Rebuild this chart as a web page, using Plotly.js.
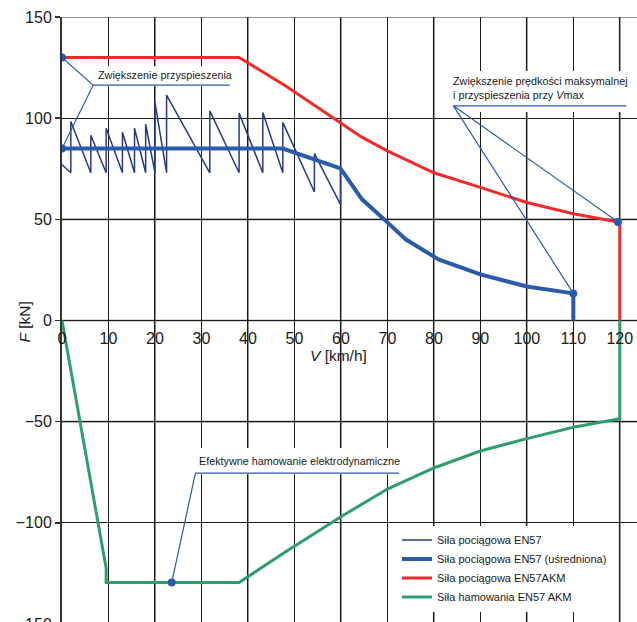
<!DOCTYPE html>
<html>
<head>
<meta charset="utf-8">
<script src="https://cdn.plot.ly/plotly-3.0.1.min.js"></script>
<style>
html, body { margin: 0; padding: 0; background: #fff; overflow: hidden; }
#chart { width: 637px; height: 650px; }
</style>
</head>
<body>
<div id="chart"></div>
<script>
// ---- data ----
const seriesNames = [
  'Siła pociągowa EN57',
  'Siła pociągowa EN57 (uśredniona)',
  'Siła pociągowa EN57AKM',
  'Siła hamowania EN57 AKM'
];
// raw traction force EN57 (sawtooth, kN vs km/h)
const rawV = [0, 1.9, 1.9, 6.2, 6.2, 9.5, 9.5, 13, 13, 15.6, 15.6, 18, 18, 20, 20, 22.5, 22.5, 31.8, 31.8, 38.1, 38.1, 43.2, 43.2, 47.5, 47.5, 54.3, 54.3, 59.9, 59.9, 64.5, 70, 74, 81, 90, 100, 110, 110];
const rawF = [77, 73, 98.4, 73, 91.6, 73, 95, 73, 93, 73, 95, 73, 97, 73, 107.8, 73, 111.4, 73, 103.6, 73, 102.5, 73, 102.8, 73, 97.9, 63.5, 82.5, 57.4, 75.2, 60, 48.5, 40, 30.2, 22.8, 16.8, 13.4, 0];
// averaged traction force EN57
const avgV = [0, 47.5, 59.9, 64.5, 70, 74, 81, 90, 100, 110, 110];
const avgF = [85, 85, 75.2, 60, 48.5, 40, 30.2, 22.8, 16.8, 13.4, 0];
// traction force EN57AKM
const akmV = [0, 38.1, 48.4, 60, 64.5, 70, 80, 90, 100, 110, 119.6, 120, 120];
const akmF = [130, 130, 115.5, 97.5, 90.6, 83.8, 73, 65.8, 58.3, 52.8, 48.7, 48.5, 0];
// braking force EN57 AKM
const brakeV = [0, 9.5, 9.5, 38.1, 48.3, 55.5, 60, 70, 80, 90, 100, 110, 120, 120];
const brakeF = [0, -122.5, -129.5, -129.5, -114, -103.5, -97, -83.3, -72.9, -64.5, -58.4, -52.8, -48.5, 0];
// highlighted points
const dotV = [0, 0, 110, 119.6, 23.6];
const dotF = [130, 85, 13.4, 48.7, -129.5];
// callout leader lines
const call1V = [0, 6.7, 36.1, null, 0, 6.7];
const call1F = [130, 116.3, 116.3, null, 85, 116.3];
const call2V = [121.4, 84.2, 110, null, 84.2, 119.6];
const call2F = [106.1, 106.1, 13.4, null, 106.1, 48.7];
const call3V = [23.6, 28.7, 72.5];
const call3F = [-129.5, -75.4, -75.4];
// callout texts
const noteTexts = [
  'Zwiększenie przyspieszenia',
  'Zwiększenie prędkości maksymalnej<br>i przyspieszenia przy <i>V</i>max',
  'Efektywne hamowanie elektrodynamiczne'
];
const noteV = [7.4, 83.7, 29.0];
const noteF = [121.2, 114.9, -69.6];
// axis ticks
const xTicks = [0, 10, 20, 30, 40, 50, 60, 70, 80, 90, 100, 110, 120];
const yTicks = [-150, -100, -50, 0, 50, 100, 150];
const grayX = [20, 40, 60, 80, 100, 120];
const grayY = [150, 50, 0, -50, -150];

// ---- styles ----
const FONT = '"Liberation Sans Narrow", "Arial Narrow", "Liberation Sans", Arial, sans-serif';
const colRaw = '#263b82', colAvg = '#2a5bab', colAkm = '#ef2b2b', colBrake = '#2f9e6c';

const traces = [
  {x: rawV, y: rawF, name: seriesNames[0], mode: 'lines', line: {color: colRaw, width: 1.5}},
  {x: avgV, y: avgF, name: seriesNames[1], mode: 'lines', line: {color: colAvg, width: 4}},
  {x: akmV, y: akmF, name: seriesNames[2], mode: 'lines', line: {color: colAkm, width: 3}},
  {x: brakeV, y: brakeF, name: seriesNames[3], mode: 'lines', line: {color: colBrake, width: 3}},
  {x: call1V, y: call1F, mode: 'lines', showlegend: false, line: {color: colAvg, width: 1.2}, hoverinfo: 'skip'},
  {x: call2V, y: call2F, mode: 'lines', showlegend: false, line: {color: colAvg, width: 1.2}, hoverinfo: 'skip'},
  {x: call3V, y: call3F, mode: 'lines', showlegend: false, line: {color: colAvg, width: 1.2}, hoverinfo: 'skip'},
  {x: dotV, y: dotF, mode: 'markers', showlegend: false, marker: {color: colAvg, size: 8}}
];

const shapes = [];
grayX.forEach(v => shapes.push({type: 'line', layer: 'between', xref: 'x', yref: 'paper', x0: v, x1: v, y0: 0, y1: 1, line: {color: '#8a8a8a', width: 2}}));
grayY.forEach(v => shapes.push({type: 'line', layer: 'between', xref: 'paper', yref: 'y', x0: 0, x1: 1, y0: v, y1: v, line: {color: '#6a6a6a', width: 1.6}}));
// white boxes behind callout texts (hide grid lines)
const boxes = [[6.5, 37, 115.8, 125.6], [83.3, 124, 103, 123.3], [28.5, 73, -76, -63]];
boxes.forEach(b => shapes.push({type: 'rect', layer: 'between', xref: 'x', yref: 'y', x0: b[0], x1: b[1], y0: b[2], y1: b[3], fillcolor: '#ffffff', line: {width: 0}}));

const annotations = noteTexts.map((t, i) => ({
  x: noteV[i], y: noteF[i], xref: 'x', yref: 'y', text: t, showarrow: false,
  xanchor: 'left', yanchor: 'middle', align: 'left',
  font: {family: FONT, size: 10.8, color: '#1a1a1a'}
}));
annotations.push({x: 59.5, y: -17.5, xref: 'x', yref: 'y', text: '<i>V</i> [km/h]', showarrow: false,
  xanchor: 'center', yanchor: 'middle', font: {family: FONT, size: 15.5, color: '#1a1a1a'}});
annotations.push({x: -0.066, y: -1, xref: 'paper', yref: 'y', text: '<i>F</i> [kN]', showarrow: false, textangle: -90,
  xanchor: 'center', yanchor: 'middle', font: {family: FONT, size: 15.5, color: '#1a1a1a'}});

const layout = {
  width: 637, height: 650,
  margin: {l: 62, r: 0, t: 17, b: 26, pad: 0},
  paper_bgcolor: '#ffffff', plot_bgcolor: '#ffffff',
  showlegend: true,
  legend: {x: 0.5826, xanchor: 'left', y: 0.0914, yanchor: 'middle', bgcolor: '#ffffff', borderwidth: 0,
           font: {family: FONT, size: 11, color: '#1a1a1a'}, itemwidth: 30, tracegroupgap: 0},
  xaxis: {range: [0, 123.7], anchor: 'free', position: 0.5, tickmode: 'array', tickvals: xTicks,
          showgrid: true, gridcolor: '#1a1a1a', gridwidth: 1, zeroline: false, showline: false,
          ticks: '', ticklabelstandoff: 6, tickfont: {family: FONT, size: 16, color: '#1a1a1a'}, fixedrange: true},
  yaxis: {range: [-150, 150], tickmode: 'array', tickvals: yTicks,
          showgrid: true, gridcolor: '#1a1a1a', gridwidth: 1, zeroline: false,
          showline: true, linecolor: '#333333', linewidth: 2, ticks: 'outside', ticklen: 5, tickcolor: '#333333', tickwidth: 1.5,
          tickfont: {family: FONT, size: 16, color: '#1a1a1a'}, fixedrange: true},
  shapes: shapes,
  annotations: annotations
};

Plotly.newPlot('chart', traces, layout, {displayModeBar: false, staticPlot: true});
</script>
</body>
</html>
